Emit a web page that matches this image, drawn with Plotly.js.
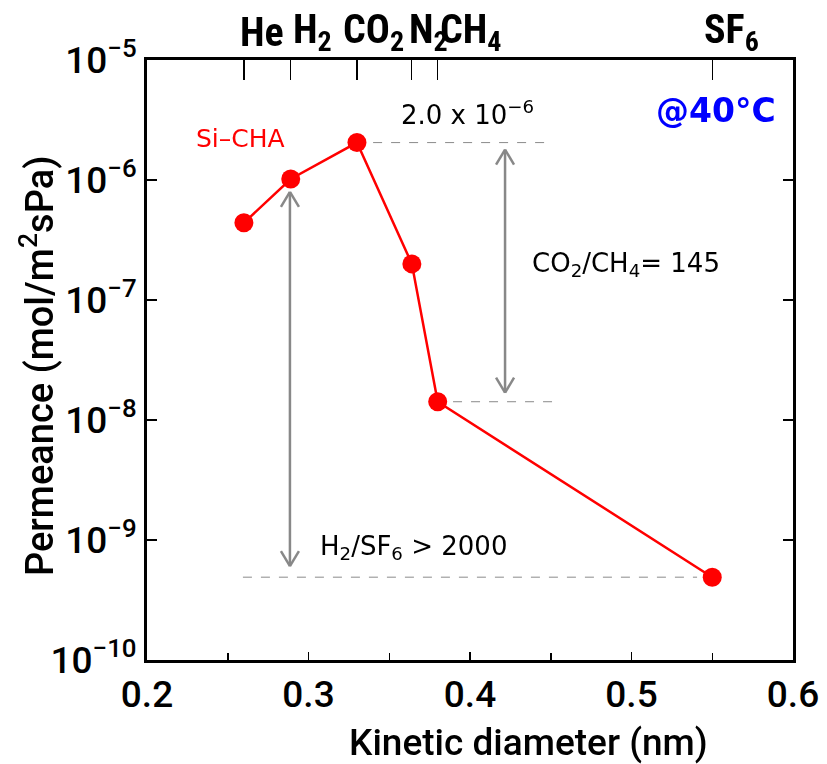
<!DOCTYPE html>
<html><head><meta charset="utf-8">
<script src="https://cdn.plot.ly/plotly-3.0.1.min.js"></script>
<style>html,body{margin:0;padding:0;background:#fff}#chart{width:827px;height:764px}</style>
</head><body><div id="chart"></div>
<script>
// ---- data ----
const gasLabels = ['He','H<sub>2</sub>','CO<sub>2</sub>','N<sub>2</sub>','CH<sub>4</sub>','SF<sub>6</sub>'];
const kineticDiameter = [0.26, 0.289, 0.33, 0.364, 0.38, 0.55];
const permeance = [4.4e-7, 1.02e-6, 2.05e-6, 2.0e-7, 1.42e-8, 4.9e-10];
const yTickVals = [1e-10, 1e-9, 1e-8, 1e-7, 1e-6, 1e-5];
const yTickText = ['10<sup>−10</sup>','10<sup>−9</sup>','10<sup>−8</sup>','10<sup>−7</sup>','10<sup>−6</sup>','10<sup>−5</sup>'];
const xTickVals = [0.2, 0.3, 0.4, 0.5, 0.6];
const xTickText = ['0.2','0.3','0.4','0.5','0.6'];

const iCO2 = 2, iCH4 = 4, iH2 = 1, iSF6 = 5;
const grey = '#888888';
const mainFont = 'Roboto, Noto Sans, sans-serif';
const annFont = 'DejaVu Sans, sans-serif';
const gasFont = 'Liberation Sans Narrow, Roboto Condensed, Roboto, sans-serif';
// horizontal placement of gas labels relative to their ticks (pixels)
const gasLabelShift = [-6, 0, -16, -5, 0, -10];

// plot-area pixel frame
const L = 147, R = 793, T = 60, B = 660;
const X0 = 0.2, X1 = 0.6, LY0 = -10, LY1 = -5;
const dataPerPx = (X1 - X0) / (R - L);
const decPerPx = (LY1 - LY0) / (B - T);

// guide (dashed) lines: x extents are layout decoration, y from data
const guides = [
  {i: iCO2, x0: 0.340, x1: 0.446},
  {i: iCH4, x0: 0.3895, x1: 0.451},
  {i: iSF6, x0: 0.2594, x1: 0.5406}
];
const shapes = guides.map(g => ({
  type: 'line', xref: 'x', yref: 'y',
  x0: g.x0, x1: g.x1, y0: permeance[g.i], y1: permeance[g.i],
  line: {color: '#8a8a8a', width: 1, dash: 'dash'}
}));

// double arrows between data levels
function dblArrow(xv, topVal, botVal, topGapPx, botGapPx) {
  const lTop = Math.log10(topVal) - topGapPx * decPerPx;
  const lBot = Math.log10(botVal) + botGapPx * decPerPx;
  const st = {color: grey, width: 2.5};
  const out = [{type: 'line', xref: 'x', yref: 'y', x0: xv, x1: xv,
                y0: Math.pow(10, lTop), y1: Math.pow(10, lBot), line: st}];
  const dx = 9 * dataPerPx, dy = 15 * decPerPx;
  [[lTop, -1], [lBot, 1]].forEach(([lt, dir]) => {
    [-1, 1].forEach(s => {
      out.push({type: 'line', xref: 'x', yref: 'y',
        x0: xv, y0: Math.pow(10, lt), x1: xv + s * dx, y1: Math.pow(10, lt + dir * dy), line: st});
    });
  });
  return out;
}
shapes.push(...dblArrow(0.4217, permeance[iCO2], permeance[iCH4], 7, 9));
shapes.push(...dblArrow(0.2885, permeance[iH2], permeance[iSF6], 13, 11));

const px = x => (x - L) / (R - L);
const py = y => (B - y) / (B - T);

const annotations = [
  {text: 'Si–CHA', x: px(240), y: py(138), font: {color: '#ff0000', size: 25, family: annFont}},
  {text: '<b>@40°C</b>', x: px(716), y: py(110), font: {color: '#0000ff', size: 33, family: annFont}},
  {text: '2.0 x 10<sup>−6</sup>', x: px(467), y: py(113), font: {color: '#000', size: 26, family: annFont}},
  {text: 'CO<sub>2</sub>/CH<sub>4</sub>= 145', x: px(626), y: py(264), font: {color: '#000', size: 26, family: annFont}},
  {text: 'H<sub>2</sub>/SF<sub>6</sub> > 2000', x: px(413), y: py(547), font: {color: '#000', size: 26, family: annFont}},
  {text: 'Kinetic diameter (nm)', x: px(528), y: py(742), font: {color: '#000', size: 37, family: mainFont, weight: 500}},
  {text: 'Permeance (mol/m<sup>2</sup>sPa)', x: px(37), y: py(366), textangle: -90, font: {color: '#000', size: 38, family: mainFont, weight: 500}}
].map(a => Object.assign({xref: 'paper', yref: 'paper', showarrow: false, xanchor: 'center', yanchor: 'middle'}, a));

// gas labels on top axis, anchored at their kinetic diameters
gasLabels.forEach((g, i) => {
  annotations.push({text: g, xref: 'x', yref: 'paper', x: kineticDiameter[i], y: py(32),
    xanchor: 'left', yanchor: 'middle', xshift: gasLabelShift[i], showarrow: false,
    font: {color: '#000', size: 40, family: gasFont, weight: 'bold'}});
});

const traces = [
  {x: kineticDiameter, y: permeance, type: 'scatter', mode: 'lines+markers',
   line: {color: '#ff0000', width: 2.5}, marker: {color: '#ff0000', size: 19},
   xaxis: 'x', yaxis: 'y', showlegend: false, hoverinfo: 'skip'},
  {x: kineticDiameter, y: permeance, type: 'scatter', mode: 'markers', opacity: 0,
   xaxis: 'x2', yaxis: 'y', showlegend: false, hoverinfo: 'skip'}
];

const tickFont = {size: 37, color: '#000', family: mainFont, weight: 500};

const layout = {
  width: 827, height: 764,
  margin: {l: L, r: 827 - R, t: T, b: 764 - B},
  paper_bgcolor: '#fff', plot_bgcolor: '#fff',
  showlegend: false,
  xaxis: {
    range: [X0, X1], showgrid: false, zeroline: false,
    showline: true, linecolor: '#000', linewidth: 3, mirror: false,
    tickvals: xTickVals, ticktext: xTickText, tickangle: 0,
    ticks: 'inside', ticklen: 8, tickwidth: 1.5, tickcolor: '#000',
    minor: {dtick: 0.05, tick0: 0.2, ticks: 'inside', ticklen: 7, tickwidth: 1.5, tickcolor: '#000'},
    tickfont: tickFont
  },
  xaxis2: {
    overlaying: 'x', side: 'top', anchor: 'y', matches: 'x',
    range: [X0, X1], showgrid: false, zeroline: false,
    showline: true, linecolor: '#000', linewidth: 3,
    tickvals: kineticDiameter, showticklabels: false,
    ticks: 'inside', ticklen: 20, tickwidth: 1.2, tickcolor: '#000'
  },
  yaxis: {
    type: 'log', range: [LY0, LY1], showgrid: false, zeroline: false,
    showline: true, linecolor: '#000', linewidth: 3, mirror: 'ticks',
    tickvals: yTickVals, ticktext: yTickText,
    ticks: 'inside', ticklen: 10, tickwidth: 1.5, tickcolor: '#000',
    tickfont: tickFont
  },
  shapes: shapes,
  annotations: annotations
};

Plotly.newPlot('chart', traces, layout, {displayModeBar: false, staticPlot: true});
</script>
</body></html>
